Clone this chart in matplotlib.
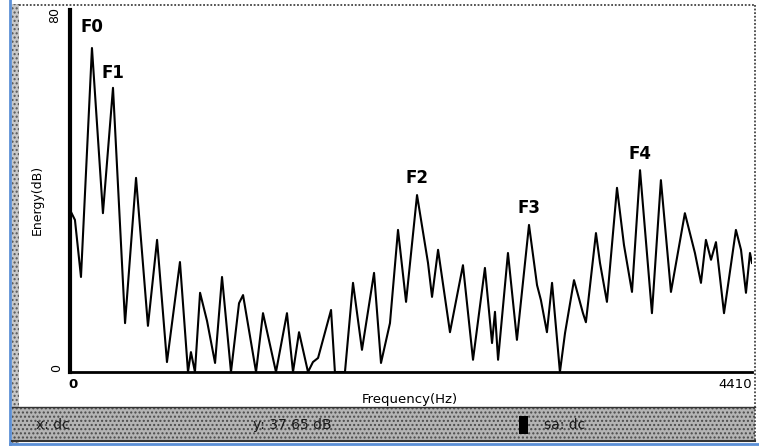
import matplotlib
matplotlib.use("Agg")
import matplotlib.pyplot as plt
from matplotlib.patches import Rectangle

# Spectrum trace (turning points of the curve)
freq_hz = [6, 32, 71, 142, 213, 278, 356, 427, 504, 563, 627, 711, 763, 782, 808,
           841, 886, 938, 983, 1041, 1093, 1119, 1203, 1248, 1332, 1403, 1442, 1481,
           1539, 1571, 1604, 1688, 1713, 1778, 1830, 1888, 1966, 2011, 2069, 2121,
           2173, 2244, 2315, 2341, 2380, 2457, 2541, 2606, 2683, 2729, 2748, 2768,
           2832, 2890, 2968, 3020, 3045, 3084, 3117, 3168, 3201, 3259, 3317, 3336,
           3401, 3427, 3472, 3537, 3582, 3634, 3686, 3763, 3821, 3886, 3976, 4041,
           4080, 4112, 4145, 4177, 4229, 4306, 4339, 4371, 4397, 4410]
energy_db = [35.4, 33.6, 21.0, 71.6, 35.1, 62.8, 10.8, 42.9, 10.2, 29.2, 2.2, 24.3, 0, 4.4, 0,
             17.5, 11.3, 2.0, 21.0, 0, 15.2, 17.0, 0, 13.0, 0, 13.0, 0, 8.8,
             0, 2.2, 3.1, 13.7, 0, 0, 19.7, 4.9, 21.9, 2.0, 10.8, 31.4,
             15.5, 39.1, 24.1, 16.6, 27.0, 8.8, 23.6, 2.7, 23.0, 6.4, 13.3, 2.7,
             26.3, 7.1, 32.5, 19.2, 15.9, 8.8, 19.7, 0, 8.6, 20.3, 13.0, 11.0,
             30.7, 24.1, 15.5, 40.7, 28.1, 17.7, 44.6, 13.0, 42.4, 17.7, 35.1, 26.3,
             19.7, 29.2, 24.8, 28.7, 13.0, 31.4, 27.0, 17.5, 26.3, 24.1]

# Formant labels and the peak each one marks
formant_names = ["F0", "F1", "F2", "F3", "F4"]
formant_freq = [142, 278, 2244, 2968, 3686]
formant_db = [71.6, 62.8, 39.1, 32.5, 44.6]

x_max = 4410
y_max = 80
status_x = "x: dc"
status_y = "y: 37.65 dB"
status_sa = "sa: dc"

W, H = 759, 448
fig = plt.figure(figsize=(W / 100, H / 100), dpi=100)
fig.patch.set_facecolor("white")

# -----------------------------
# Window frame / status bar (pixel coordinates)
# -----------------------------
frame = fig.add_axes([0, 0, 1, 1])
frame.set_xlim(0, W)
frame.set_ylim(H, 0)
frame.axis("off")

frame.plot([10, 10], [0, 444], color="#5b8fd6", lw=2)
frame.plot([10, W], [444, 444], color="#5b8fd6", lw=2)
frame.add_patch(Rectangle((12, 4), 7, 440, facecolor="#c8c8c8",
                          edgecolor="#555555", hatch="....", lw=0))
frame.plot([19, 755], [5, 5], color="#444444", lw=1.3, ls=(0, (1, 1)))
frame.plot([755, 755], [5, 442], color="#444444", lw=1.3, ls=(0, (1, 1)))
frame.add_patch(Rectangle((12, 407), 743, 34, facecolor="#b4b4b4",
                          edgecolor="#4a4a4a", hatch="....", lw=0))
frame.plot([12, 755], [407, 407], color="#333333", lw=1)
frame.plot([12, 755], [441, 441], color="#333333", lw=1.5)

frame.text(36, 425, status_x, fontsize=10, va="center", color="#1a1a1a")
frame.text(253, 425, status_y, fontsize=10, va="center", color="#1a1a1a")
frame.add_patch(Rectangle((519, 416), 9, 18, facecolor="black", lw=0))
frame.text(544, 425, status_sa, fontsize=10, va="center", color="#1a1a1a")

frame.text(37, 200, "Energy(dB)", fontsize=9, rotation=90, ha="center", va="center")
frame.text(55, 15, str(y_max), fontsize=9, rotation=90, ha="center", va="center")
frame.text(57, 368, "0", fontsize=9, rotation=90, ha="center", va="center")
frame.text(73, 384, "0", fontsize=9.5, fontweight="bold", ha="center", va="center")
frame.text(752, 384, str(x_max), fontsize=9.5, ha="right", va="center")
frame.text(410, 399, "Frequency(Hz)", fontsize=9.5, ha="center", va="center")

# -----------------------------
# Spectrum
# -----------------------------
ax = fig.add_axes([70 / W, 1 - 372 / H, (752 - 70) / W, (372 - 10) / H])
ax.set_facecolor("none")
ax.plot(freq_hz, energy_db, color="black", lw=1.5, solid_joinstyle="round")
ax.set_xlim(0, x_max)
ax.set_ylim(0, y_max)
ax.set_xticks([])
ax.set_yticks([])
ax.spines["top"].set_visible(False)
ax.spines["right"].set_visible(False)
ax.spines["left"].set_linewidth(3)
ax.spines["bottom"].set_linewidth(2)

offsets = [15, 11, 12, 12, 12]
for name, f, db, off in zip(formant_names, formant_freq, formant_db, offsets):
    ax.annotate(name, (f, db), xytext=(0, off), textcoords="offset points",
                ha="center", va="center", fontsize=12, fontweight="bold")

fig.savefig("out.png", dpi=100)
